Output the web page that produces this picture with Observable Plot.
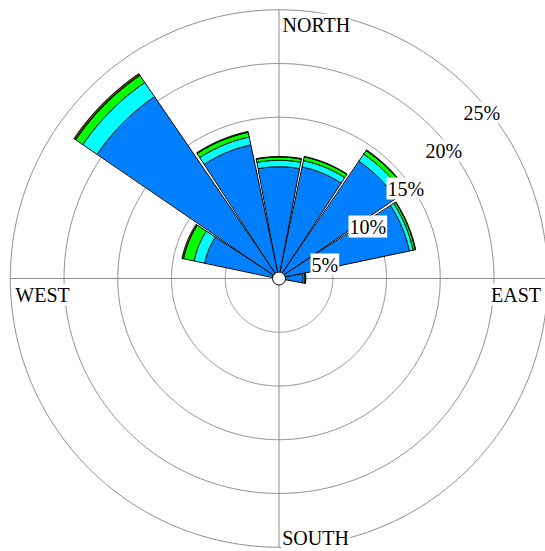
<!DOCTYPE html>
<html>
<head>
<meta charset="utf-8">
<script src="https://cdn.jsdelivr.net/npm/d3@7"></script>
<script src="https://cdn.jsdelivr.net/npm/@observablehq/plot@0.6"></script>
<style>
html, body { margin: 0; padding: 0; background: #fff; overflow: hidden; }
#chart svg { display: block; }
</style>
</head>
<body>
<div id="chart"></div>
<script>
// ---- data ----
const directions = ["N","NNE","NE","ENE","E","ESE","SE","SSE","S","SSW","SW","WSW","W","WNW","NW","NNW"];
const bearings   = [0, 22.5, 45, 67.5, 90, 112.5, 135, 157.5, 180, 202.5, 225, 247.5, 270, 292.5, 315, 337.5];
const speedClasses = ["class 1", "class 2", "class 3", "class 4"];
const classColors  = ["#0080ff", "#00ffff", "#00ff00", "#4a4200"];
// frequency (%) of each speed class per direction (stacked outward)
const class1 = [10.4, 10.6, 13.2, 12.4, 2.25, 0, 0, 0, 0, 0, 0, 0, 0, 7.07, 20.5, 12.7];
const class2 = [0.6, 0.6, 0.8, 0.35, 0.15, 0, 0, 0, 0, 0, 0, 0, 0, 1.0, 1.6, 0.75];
const class3 = [0.3, 0.35, 0.4, 0.2, 0.07, 0, 0, 0, 0, 0, 0, 0, 0, 1.0, 0.8, 0.45];
const class4 = [0.05, 0.05, 0.08, 0.05, 0.03, 0, 0, 0, 0, 0, 0, 0, 0, 0.15, 0.2, 0.08];
const ringValues = [5, 10, 15, 20, 25];
const ringLabels = ["5%", "10%", "15%", "20%", "25%"];
const compassLabels = ["NORTH", "EAST", "SOUTH", "WEST"];
const compassBearings = [0, 90, 180, 270];

// ---- geometry helpers (polar -> lon/lat for a pole-centred azimuthal projection) ----
const classValues = [class1, class2, class3, class4];
const rMax = 25;
const halfWidth = 10.6;
const labelBearing = 45;
const toLon = b => 180 - b;
const toLat = r => 90 - r;

function sector(b, r0, r1) {
  const n = 80, pts = [];
  for (let i = 0; i <= n; i++) pts.push([toLon(b - halfWidth + 2 * halfWidth * i / n), toLat(r1)]);
  for (let i = n; i >= 0; i--) pts.push([toLon(b - halfWidth + 2 * halfWidth * i / n), toLat(r0)]);
  pts.push(pts[0]);
  let g = {type: "Polygon", coordinates: [pts]};
  if (d3.geoArea(g) > 2 * Math.PI) g = {type: "Polygon", coordinates: [pts.slice().reverse()]};
  return g;
}

const sectors = [];
directions.forEach((dir, i) => {
  let cum = 0;
  classValues.forEach((vals, k) => {
    const v = vals[i];
    if (v > 0) {
      sectors.push({
        type: "Feature",
        properties: {direction: dir, speed: speedClasses[k]},
        geometry: sector(bearings[i], Math.max(cum, 0.3), cum + v)
      });
    }
    cum += v;
  });
});

const compassOffsets = [
  {textAnchor: "start", dx: 3.5, dy: 21.7},
  {textAnchor: "end", dx: -6.5, dy: 23},
  {textAnchor: "start", dx: 3.2, dy: -1.7},
  {textAnchor: "start", dx: 4.8, dy: 23}
];

const chart = Plot.plot({
  width: 545,
  height: 551,
  marginLeft: 9.8,
  marginRight: -2.2,
  marginTop: 9.3,
  marginBottom: 4.3,
  projection: {
    type: "azimuthal-equidistant",
    rotate: [0, -90],
    clip: false,
    domain: d3.geoCircle().center([0, 90]).radius(rMax).precision(0.5)()
  },
  color: {domain: speedClasses, range: classColors},
  style: {fontFamily: "'Liberation Serif', 'Times New Roman', serif", fontSize: "20px", background: "white", overflow: "hidden"},
  marks: [
    Plot.geo(ringValues, {
      geometry: r => d3.geoCircle().center([0, 90]).radius(r).precision(0.5)(),
      stroke: "#8c8c8c", strokeWidth: 1, fill: "none"
    }),
    Plot.link(compassBearings, {
      x1: b => toLon(b), y1: 90, x2: b => toLon(b), y2: toLat(rMax),
      stroke: "#8c8c8c", strokeWidth: 1
    }),
    Plot.geo(sectors, {fill: d => d.properties.speed, stroke: "black", strokeWidth: 1}),
    Plot.dot([0], {x: 0, y: 90, r: 6.5, fill: "white", stroke: "black", strokeWidth: 1}),
    Plot.text(ringValues, {
      x: toLon(labelBearing), y: d => toLat(d), text: (d, i) => ringLabels[i],
      textAnchor: "start", lineAnchor: "bottom", dx: -5.5, dy: 31,
      fontSize: 20, fill: "black"
    }),
    ...compassLabels.map((lab, i) => Plot.text([lab], {
      x: toLon(compassBearings[i]), y: toLat(rMax - 0.02), text: d => d,
      lineAnchor: "bottom", fontSize: 20, fill: "black", ...compassOffsets[i]
    }))
  ]
});

document.getElementById("chart").append(chart);

// white label boxes behind every text
for (const t of chart.querySelectorAll("text")) {
  const b = t.getBBox();
  const rect = document.createElementNS("http://www.w3.org/2000/svg", "rect");
  rect.setAttribute("x", b.x - 1);
  rect.setAttribute("y", b.y);
  rect.setAttribute("width", b.width + 2);
  rect.setAttribute("height", b.height);
  rect.setAttribute("fill", "white");
  rect.setAttribute("stroke", "none");
  const tr = t.getAttribute("transform");
  if (tr) rect.setAttribute("transform", tr);
  t.parentNode.insertBefore(rect, t);
}
</script>
</body>
</html>
